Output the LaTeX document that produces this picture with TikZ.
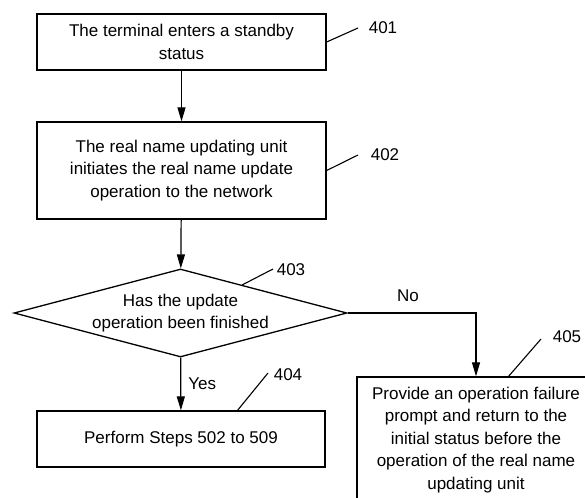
\documentclass[tikz,border=0pt]{standalone}
\usepackage{fontspec}
\setmainfont{Liberation Sans}
\usetikzlibrary{shapes.geometric,arrows.meta}
\begin{document}
\begin{tikzpicture}[x=1pt,y=-1pt,
  every node/.style={font=\fontsize{17}{22.5}\selectfont},
  stepbox/.style={draw,line width=1.3pt,inner sep=0pt,align=center,minimum width=#1},
  decision/.style={draw,line width=1.3pt,shape=diamond,aspect=3.78,inner sep=0pt,align=center,minimum width=333pt,minimum height=88pt},
  flow/.style={line width=1.2pt,-{Triangle[length=14pt,width=8pt]}},
  leader/.style={line width=1.1pt},
  lbl/.style={inner sep=0pt}]
\useasboundingbox (0,0) rectangle (585,497);
\clip (0,0) rectangle (585,497);
\node[stepbox=289pt,minimum height=56pt] (b401) at (181.5,42) {The terminal enters a standby\\status};
\node[stepbox=289pt,minimum height=97pt] (b402) at (181.5,170.5) {The real name updating unit\\initiates the real name update\\operation to the network};
\node[decision] (d403) at (180.5,313) {Has the update\\operation been finished};
\node[stepbox=288pt,minimum height=56pt] (b404) at (181,439) {Perform Steps 502 to 509};
\node[stepbox=238pt,minimum height=126pt] (b405) at (476,440) {Provide an operation failure\\prompt and return to the\\initial status before the\\operation of the real name\\updating unit};
\draw[flow] (b401) -- (b402);
\draw[flow] (b402) -- (d403);
\draw[flow] (d403) -- node[lbl,right,xshift=7pt] (yes) {Yes} (b404);
\draw[flow] (d403.east) -| (b405.north);
\node[lbl] (no) at (408,296) {No};
% reference labels
\node[lbl] (n401) at (383,28) {401};
\node[lbl] (n402) at (385,155) {402};
\node[lbl] (n403) at (291,270) {403};
\node[lbl] (n404) at (288,375) {404};
\node[lbl] (n405) at (567,337) {405};
\coordinate (e401) at (358,28);
\coordinate (e402) at (358,155);
\coordinate (s403) at (242,285);
\coordinate (e403) at (273,269);
\coordinate (s404) at (237,411);
\coordinate (e404) at (268,373);
\coordinate (s405) at (508,377);
\coordinate (e405) at (541,339);
\draw[leader] (b401.east) -- (e401);
\draw[leader] (b402.east) -- (e402);
\draw[leader] (s403) -- (e403);
\draw[leader] (s404) -- (e404);
\draw[leader] (s405) -- (e405);
\end{tikzpicture}
\end{document}
